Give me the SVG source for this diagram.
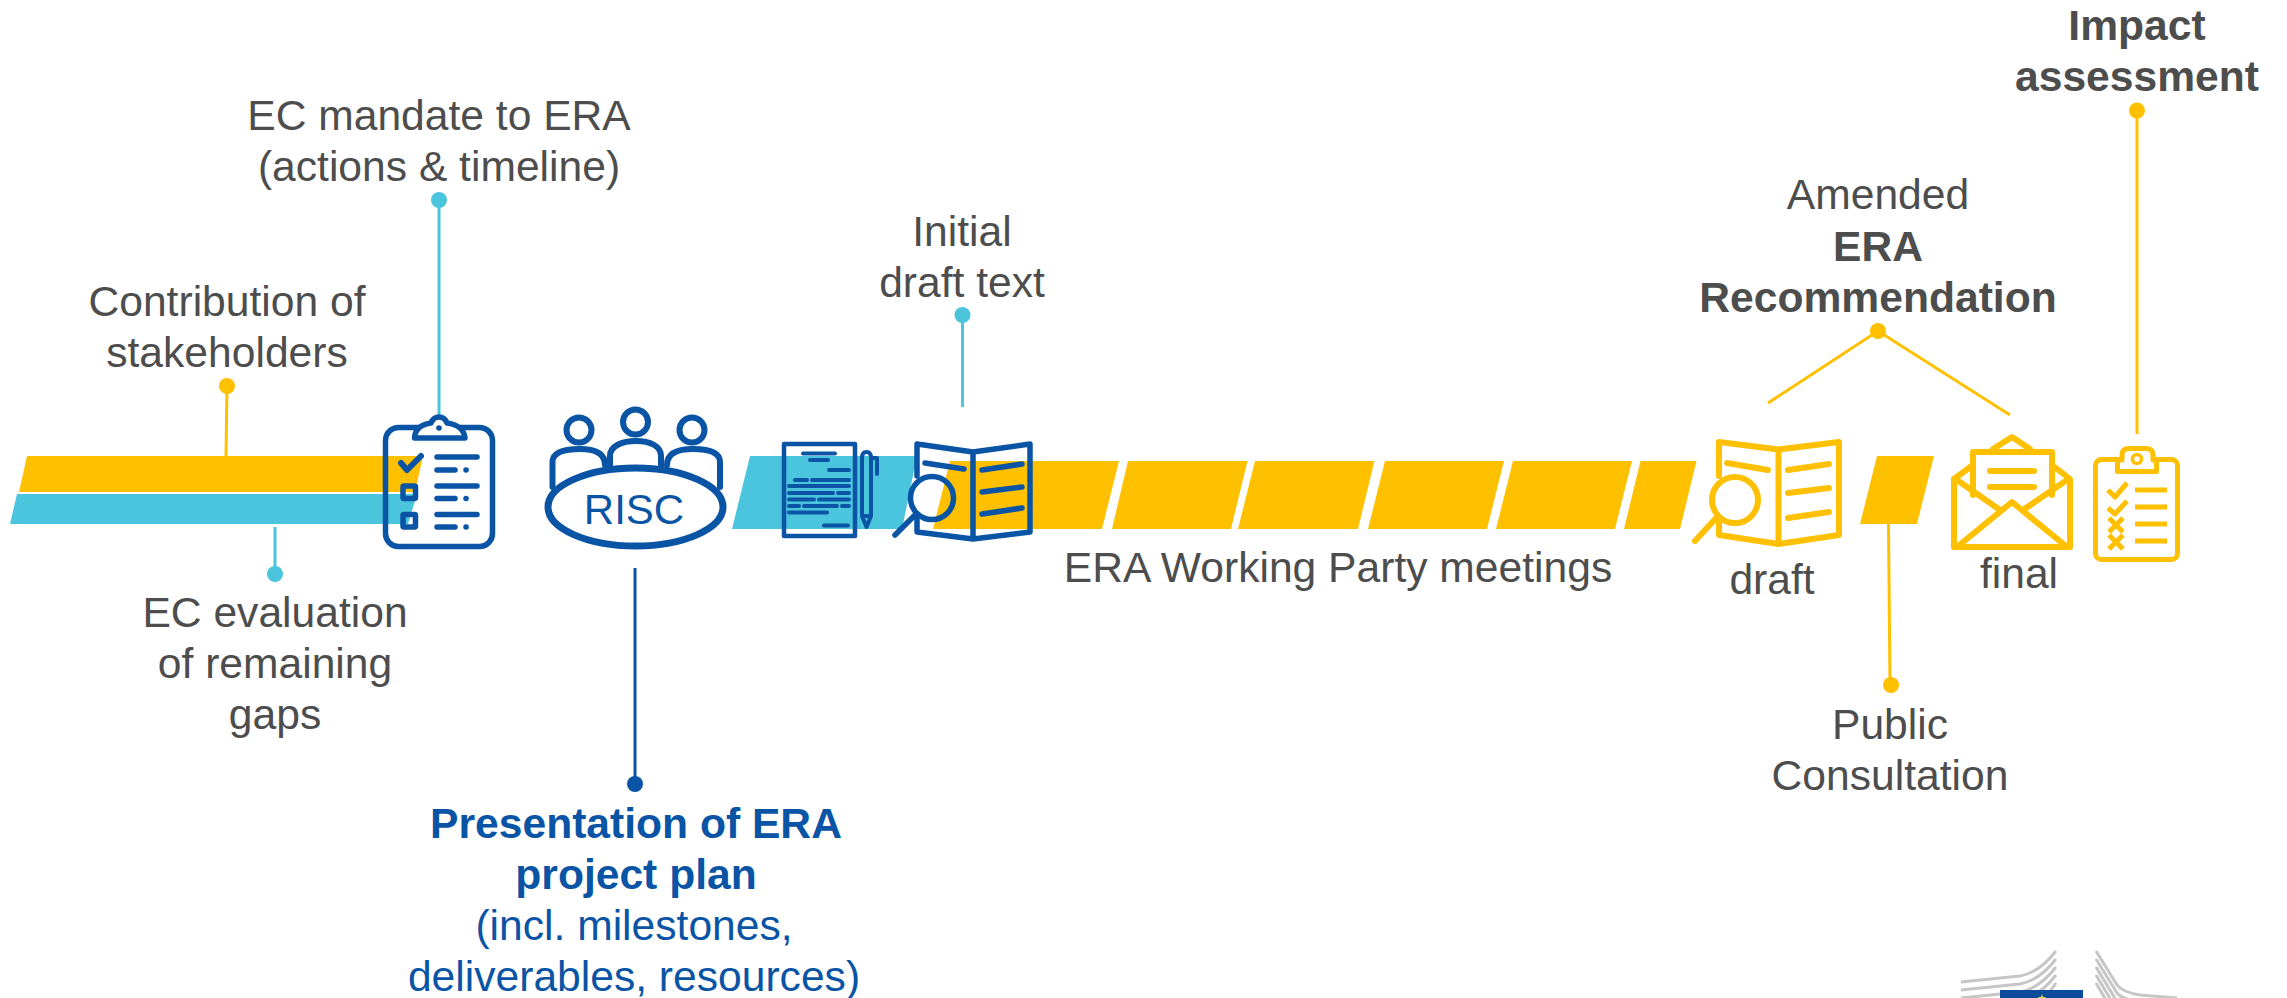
<svg xmlns="http://www.w3.org/2000/svg" width="2287" height="998" viewBox="0 0 2287 998">
<style>
text{font-family:"Liberation Sans",Arial,sans-serif;font-size:42.600px;fill:#4d4d4d;text-anchor:middle}
.b{font-weight:bold}
text.db{fill:#0a54a5}
.sb{fill:none;stroke:#0a54a5;stroke-width:5.500;stroke-linecap:round;stroke-linejoin:round}
.so{fill:none;stroke:#ffc000;stroke-width:6;stroke-linecap:round;stroke-linejoin:round}
.o{fill:#ffc000}.c{fill:#4bc4de}.d{fill:#0a54a5}
.g{fill:none;stroke:#c6c6c6;stroke-width:3}
</style>
<g id="bars">
<polygon class="o" points="27,456 423,456 415,492 19,492"/>
<polygon class="c" points="17,494 417,494 408,524 10,524"/>
<polygon class="c" points="750,456 917,456 902,529 732,529"/>
<polygon class="o" points="950,461 1119,461 1102,529 933,529"/>
<polygon class="o" points="1128,461 1247.500,461 1231,529 1112,529"/>
<polygon class="o" points="1255,461 1374.500,461 1358,529 1238,529"/>
<polygon class="o" points="1385,461 1504,461 1487,529 1368,529"/>
<polygon class="o" points="1513,461 1632,461 1615,529 1496,529"/>
<polygon class="o" points="1640.500,461 1696.500,461 1680,529 1624,529"/>
<polygon class="o" points="1877,456 1934,456 1917,524 1860,524"/>
</g>
<g id="connectors" fill="none" stroke-width="3">
<path stroke="#ffc000" d="M227,386L226,456M1888.500,524L1890,685M2137,110V434M1768,403L1878,331L2010,415"/>
<path stroke="#4bc4de" d="M439,200V415M275,527V574M962.500,315V407"/>
<path stroke="#0a54a5" d="M635,568V784"/>
<circle class="o" cx="227" cy="386" r="8" stroke="none"/>
<circle class="o" cx="1891" cy="685" r="8" stroke="none"/>
<circle class="o" cx="2137" cy="110.500" r="8" stroke="none"/>
<circle class="o" cx="1878" cy="331" r="8" stroke="none"/>
<circle class="c" cx="439" cy="200" r="8" stroke="none"/>
<circle class="c" cx="275" cy="574" r="8" stroke="none"/>
<circle class="c" cx="962.500" cy="315" r="8" stroke="none"/>
<circle class="d" cx="635" cy="784" r="8" stroke="none"/>
</g>
<g id="label-mandate"><text x="439" y="130">EC mandate to ERA</text><text x="439" y="181">(actions &amp; timeline)</text></g>
<g id="label-contribution"><text x="227" y="316">Contribution of</text><text x="227" y="367">stakeholders</text></g>
<g id="label-evaluation"><text x="275" y="627">EC evaluation</text><text x="275" y="678">of remaining</text><text x="275" y="729">gaps</text></g>
<g id="label-initial"><text x="962" y="246">Initial</text><text x="962" y="297">draft text</text></g>
<g id="label-presentation"><text class="b db" x="636" y="838">Presentation of ERA</text><text class="b db" x="636" y="889">project plan</text><text class="db" x="634" y="940">(incl. milestones,</text><text class="db" x="634" y="991">deliverables, resources)</text></g>
<g id="label-wp"><text x="1338" y="582">ERA Working Party meetings</text></g>
<g id="label-draft"><text x="1772" y="594">draft</text></g>
<g id="label-final"><text x="2019" y="588">final</text></g>
<g id="label-public"><text x="1890" y="739">Public</text><text x="1890" y="790">Consultation</text></g>
<g id="label-amended"><text x="1878" y="209">Amended</text><text class="b" x="1878" y="261">ERA</text><text class="b" x="1878" y="312">Recommendation</text></g>
<g id="label-impact"><text class="b" x="2137" y="40">Impact</text><text class="b" x="2137" y="91">assessment</text></g>
<g id="clipboard-blue" class="sb">
<rect x="385.500" y="427.500" width="107" height="119" rx="13"/>
<path fill="#fff" d="M414.500,438H465C464,428 455,424 447,423C445,418 441,417 439,417C437,417 433,418 431,423C423,424 415,428 414.500,438Z"/>
<circle class="d" stroke="none" cx="439" cy="428" r="2.800"/>
<path style="stroke-width:6" d="M401,463L407,470L421,456"/>
<rect x="403" y="486" width="12.500" height="12.500" rx="1"/>
<rect x="403" y="514.500" width="12.500" height="12.500" rx="1"/>
<path d="M437,457H477M437,470H455M437,486H477M437,498.500H455M437,514.500H477M437,527H455"/>
<path style="stroke-width:5.500" d="M466,470h.1M466,498.500h.1M466,527h.1"/>
</g>
<g id="risc">
<g class="sb" style="stroke-width:6">
<circle cx="579" cy="430" r="12.500"/><circle cx="635.500" cy="422" r="12.500"/><circle cx="692" cy="430" r="12.500"/>
<path d="M552.500,487V462C552.500,452 565,449 580,449C595,449 605,453 605,465"/>
<path d="M610,466V456C610,446 622,441 636,441C650,441 661,446 661,456V466"/>
<path d="M667,465C667,453 678,449 693,449C708,449 720,452 720,462V487"/>
</g>
<ellipse cx="635.500" cy="507" rx="87.500" ry="39" fill="#fff" stroke="#0a54a5" stroke-width="7"/>
<text class="db" x="634" y="524" style="font-size:42px">RISC</text>
</g>
<g id="doc" class="sb" style="stroke-width:4">
<rect x="784" y="444" width="71" height="92" style="stroke-width:4.500"/>
<path d="M803,453.500H835M810,460H828M829,470H849M795,480H807M812,480H849M789,486H849M789,493H833M838,493H849M789,499.500H814M819,499.500H849M789,506H799M804,506H837M842,506H849M789,512.500H827M824,525.500H848"/>
<path d="M862,458Q862,452 866.500,452Q871,452 871,458V516L866.500,527L862,516ZM862,516H871M871,458H877V474"/>
</g>
<g id="book-blue" class="sb">
<path d="M917,476V444L973,452L1030,444V532L973,539L917,532V516M973,452V539"/>
<circle cx="932" cy="498" r="21.500"/>
<path d="M916,514L895,535M925,463L964,469M982,470L1022,464M982,492L1022,487M982,514L1022,508"/>
</g>
<g id="book-orange" class="so">
<path d="M1719,476V442L1778.500,449.500L1839,442V535L1778.500,544L1719,535V520M1778.500,449.500V544"/>
<circle cx="1735" cy="500" r="23"/>
<path d="M1717,517L1695,541M1727,463L1768,470M1788,470L1829,464M1788,493L1829,488M1788,518L1829,512"/>
</g>
<g id="envelope" class="so">
<path d="M1954,479V547H2070V479L2052,465M1954,479L1973,465M1957,480L2000,510M2067,480L2023,510M1957,547L2012,502L2067,547"/>
<path d="M1973,495V452H2052V495M1993,449L2012,437L2030,449M1990,471H2034M1990,487H2034"/>
</g>
<g id="clipboard-orange" class="so" style="stroke-width:5">
<rect x="2095.500" y="459.500" width="82" height="100" rx="6"/>
<path fill="#fff" d="M2117.500,460V471.500H2156.500V460H2153V455Q2153,448.500 2146,448.500H2129Q2122,448.500 2122,455V460Z"/>
<circle cx="2137" cy="459" r="4.500" style="stroke-width:3.500"/>
<path stroke-linecap="butt" d="M2108,490L2115,497L2127,483M2108,508L2115,514L2127,501M2109,518L2123,532M2123,518L2109,532M2109,535L2123,549M2123,535L2109,549"/>
<path style="stroke-linecap:butt" d="M2135,490H2167M2135,507H2167M2135,524H2167M2135,541H2167"/>
</g>
<g id="logo">
<path class="g" d="M1961,982L2020,976Q2040,972 2056,951M1961,990L2020,984Q2040,980 2056,959M1961,998L2020,992Q2040,988 2056,967M2020,1000Q2040,996 2056,975M2040,1000Q2050,993 2056,983"/>
<path class="g" d="M2096,951L2117,985Q2122,992 2140,995L2177,998M2096,959L2117,993Q2120,997 2130,1000M2096,967L2116,1000M2096,975L2111,1000M2096,983L2106,1000"/>
<rect x="2000" y="990" width="83" height="8" fill="#0a4a9a"/>
<polygon points="2042,994 2043,997 2046,997 2044,999 2040,999 2038,997 2041,997" fill="#e8e04a"/>
</g>
</svg>
